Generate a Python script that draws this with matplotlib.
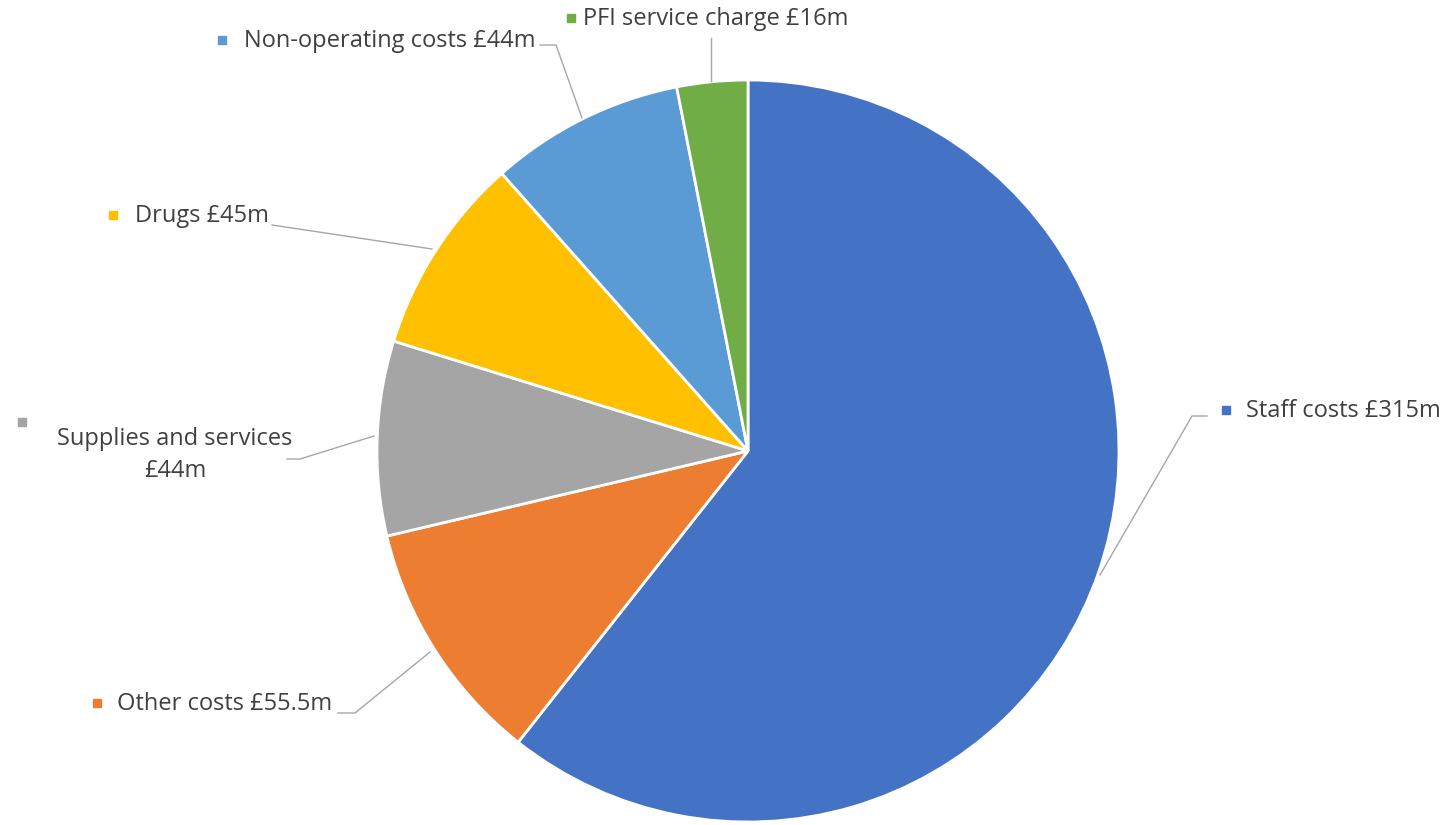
import matplotlib
matplotlib.use("Agg")
import matplotlib.pyplot as plt

categories = ["Staff costs", "Other costs", "Supplies and services", "Drugs",
              "Non-operating costs", "PFI service charge"]
values = [315, 55.5, 44, 45, 44, 16]
value_labels = ["£315m", "£55.5m", "£44m", "£45m", "£44m", "£16m"]
colors = ["#4472C4", "#ED7D31", "#A5A5A5", "#FFC000", "#5B9BD5", "#70AD47"]

W, H = 1447, 825
fig = plt.figure(figsize=(W / 100, H / 100), dpi=100)
ax = fig.add_axes([0, 0, 1, 1])

def py(y):
    # image pixel row -> axes y
    return H - y

ax.pie(values, colors=colors, startangle=90, counterclock=False,
       center=(748, py(451)), radius=371, frame=True,
       wedgeprops=dict(edgecolor="white", linewidth=2))
ax.set_xlim(0, W)
ax.set_ylim(0, H)
ax.set_aspect("equal")
ax.axis("off")

# label layout: (marker x, text x, text y, ha, leader path) in image pixels
layout = [
    (1226, 1246, 411, "left", [(1207, 416), (1192, 416), (1100, 575)]),
    (97, 117, 704, "left", [(338, 713), (355, 713), (430, 652)]),
    (22, 175, 439, "center", [(287, 459), (300, 459), (374, 436)]),
    (113, 135, 216, "left", [(272, 225), (432, 249)]),
    (222, 244, 41, "left", [(540, 45), (556, 45), (582, 118)]),
    (571, 583, 19, "left", [(711, 38), (711, 81)]),
]

text_kw = dict(fontsize=17, color="#404040", family=["Open Sans", "DejaVu Sans"],
               va="center")
for cat, lab, col, (mx, tx, ty, ha, path) in zip(categories, value_labels, colors, layout):
    if ha == "center":
        ax.plot(mx, py(422), marker="s", ms=6, color=col, linestyle="none")
        ax.text(tx, py(ty), cat, ha="center", **text_kw)
        ax.text(tx, py(ty + 32), lab, ha="center", **text_kw)
    else:
        ax.plot(mx, py(ty - 1), marker="s", ms=6, color=col, linestyle="none")
        ax.text(tx, py(ty), cat + " " + lab, ha="left", **text_kw)
    xs = [p[0] for p in path]
    ys = [py(p[1]) for p in path]
    ax.plot(xs, ys, color="#A6A6A6", linewidth=1)

fig.savefig("out.png", dpi=100)
